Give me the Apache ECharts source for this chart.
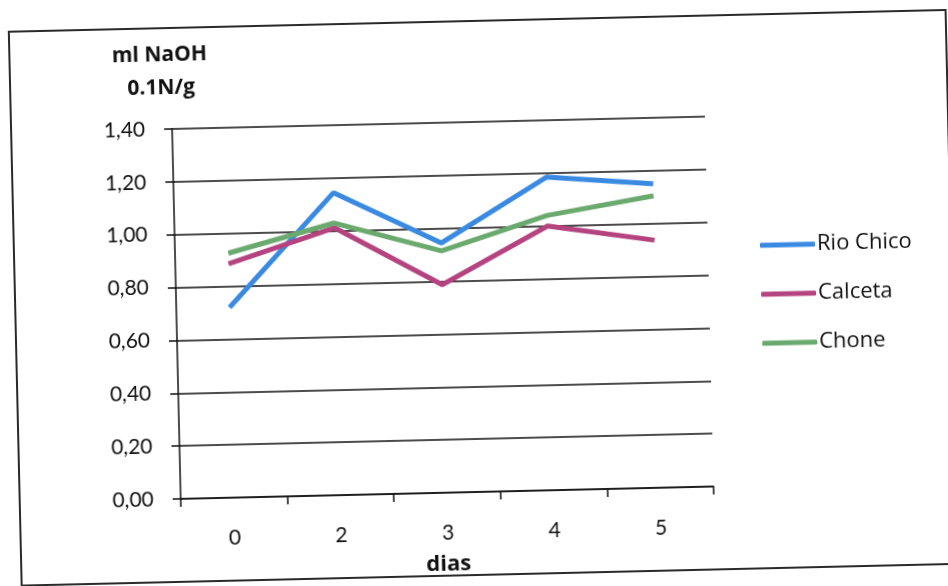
<!DOCTYPE html>
<html>
<head>
<meta charset="utf-8">
<script src="https://cdn.jsdelivr.net/npm/echarts@6/dist/echarts.min.js"></script>
<style>
html,body{margin:0;padding:0;background:#fff;overflow:hidden;width:948px;height:586px;}
#c{position:absolute;left:0;top:0;width:960px;height:600px;transform:rotate(-1.33deg);transform-origin:474px 293px;}
</style>
</head>
<body>
<div id="c"></div>
<script>
const categories = ['0', '2', '3', '4', '5'];
const rioChico = [0.72, 1.145, 0.945, 1.185, 1.15];
const calceta = [0.885, 1.012, 0.787, 1.0, 0.937];
const chone = [0.925, 1.03, 0.915, 1.04, 1.105];
const yTicks = { min: 0, max: 1.4, interval: 0.2 };
const seriesNames = ['Rio Chico', 'Calceta', 'Chone'];
const titleLines = ['ml NaOH', '0.1N/g'];
const xName = 'dias';

const FONT = 'Lato, "Open Sans", sans-serif';
const FONT2 = '"Open Sans", Lato, sans-serif';
const colors = ['#3a8ae2', '#b4437f', '#6aaa6e'];

const chart = echarts.init(document.getElementById('c'), null, { renderer: 'canvas' });
const dataSets = [rioChico, calceta, chone];
chart.setOption({
  animation: false,
  backgroundColor: '#fff',
  color: colors,
  textStyle: { fontFamily: FONT },
  grid: { left: 176, right: 251, top: 122, bottom: 108, containLabel: false },
  graphic: [
    { type: 'rect', shape: { x: 15, y: 21, width: 937, height: 554 }, style: { fill: 'none', stroke: '#2a2a2a', lineWidth: 2 }, z: 0 },
    { type: 'text', x: 165, y: 48, style: { text: titleLines[0], fontFamily: FONT2, fontSize: 21, fontWeight: 'bold', fill: '#111', align: 'center', verticalAlign: 'middle' } },
    { type: 'text', x: 166, y: 81, style: { text: titleLines[1], fontFamily: FONT2, fontSize: 21, fontWeight: 'bold', fill: '#111', align: 'center', verticalAlign: 'middle' } }
  ],
  legend: {
    orient: 'vertical',
    left: 761,
    top: 241,
    padding: 0,
    itemWidth: 55,
    itemHeight: 5,
    itemGap: 27,
    icon: 'roundRect',
    textStyle: { fontFamily: FONT2, fontSize: 22, color: '#111', padding: [0, 0, 0, -3] },
    data: seriesNames
  },
  xAxis: {
    type: 'category',
    data: categories,
    boundaryGap: true,
    name: xName,
    nameLocation: 'middle',
    nameGap: 61,
    nameTextStyle: { fontFamily: FONT2, fontSize: 22, fontWeight: 'bold', color: '#111' },
    axisLine: { lineStyle: { color: '#111', width: 1.5 } },
    axisTick: { show: true, length: 8, lineStyle: { color: '#111', width: 1.5 } },
    axisLabel: { fontFamily: FONT, fontSize: 21, color: '#111', margin: 30 }
  },
  yAxis: {
    type: 'value',
    min: yTicks.min,
    max: yTicks.max,
    interval: yTicks.interval,
    axisLine: { show: true, lineStyle: { color: '#111', width: 1.5 } },
    axisTick: { show: true, length: 8, lineStyle: { color: '#111', width: 1.5 } },
    axisLabel: { fontFamily: FONT, fontSize: 21, color: '#111', margin: 27, formatter: v => v.toFixed(2).replace('.', ',') },
    splitLine: { show: true, lineStyle: { color: '#111', width: 1.5 } }
  },
  series: seriesNames.map((n, i) => ({
    name: n,
    type: 'line',
    data: dataSets[i],
    symbol: 'none',
    lineStyle: { width: 5, color: colors[i] },
    itemStyle: { color: colors[i] }
  }))
});
</script>
</body>
</html>
